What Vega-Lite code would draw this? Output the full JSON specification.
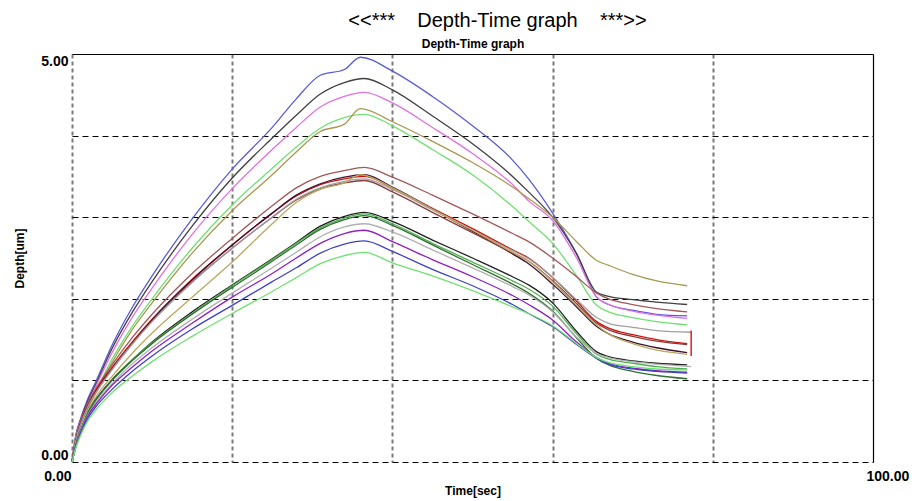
{
  "$schema": "https://vega.github.io/schema/vega-lite/v6.json",
  "width": 801,
  "height": 408,
  "autosize": {"type": "none"},
  "padding": {"left": 72, "top": 54, "right": 46, "bottom": 39},
  "background": "white",
  "config": {"view": {"stroke": null}, "font": "Liberation Sans"},
  "title": {"text": "<<***\u00a0\u00a0\u00a0\u00a0Depth-Time graph\u00a0\u00a0\u00a0\u00a0***>>", "fontSize": 20, "fontWeight": "normal", "font": "Liberation Sans", "color": "black", "anchor": "middle", "offset": 6, "dx": 25},
  "datasets": {
    "curves": [
      {"s":"A1","t":0,"d":0},{"s":"A1","t":0.5,"d":0.34},{"s":"A1","t":1,"d":0.51},{"s":"A1","t":2,"d":0.78},{"s":"A1","t":3,"d":0.99},{"s":"A1","t":5,"d":1.43},{"s":"A1","t":7.5,"d":1.89},{"s":"A1","t":10,"d":2.28},{"s":"A1","t":15,"d":2.98},{"s":"A1","t":20,"d":3.59},{"s":"A1","t":25,"d":4.10},{"s":"A1","t":28,"d":4.45},{"s":"A1","t":31,"d":4.74},{"s":"A1","t":34,"d":4.81},{"s":"A1","t":36,"d":4.96},{"s":"A1","t":40,"d":4.79},{"s":"A1","t":45,"d":4.48},{"s":"A1","t":50,"d":4.12},{"s":"A1","t":55,"d":3.70},{"s":"A1","t":57,"d":3.47},{"s":"A1","t":60,"d":3.05},{"s":"A1","t":63,"d":2.55},{"s":"A1","t":65.5,"d":2.02},{"s":"A1","t":67,"d":1.93},{"s":"A1","t":70,"d":1.86},{"s":"A1","t":73,"d":1.81},{"s":"A1","t":76.8,"d":1.79},
      {"s":"A2","t":0,"d":0},{"s":"A2","t":0.5,"d":0.33},{"s":"A2","t":1,"d":0.49},{"s":"A2","t":2,"d":0.75},{"s":"A2","t":3,"d":0.96},{"s":"A2","t":5,"d":1.39},{"s":"A2","t":7.5,"d":1.83},{"s":"A2","t":10,"d":2.21},{"s":"A2","t":15,"d":2.89},{"s":"A2","t":20,"d":3.48},{"s":"A2","t":25,"d":3.97},{"s":"A2","t":28,"d":4.25},{"s":"A2","t":31,"d":4.51},{"s":"A2","t":34,"d":4.65},{"s":"A2","t":36.5,"d":4.70},{"s":"A2","t":40,"d":4.56},{"s":"A2","t":45,"d":4.24},{"s":"A2","t":50,"d":3.90},{"s":"A2","t":55,"d":3.50},{"s":"A2","t":57,"d":3.31},{"s":"A2","t":60,"d":3.00},{"s":"A2","t":63,"d":2.55},{"s":"A2","t":65.5,"d":2.08},{"s":"A2","t":67,"d":2.03},{"s":"A2","t":70,"d":1.99},{"s":"A2","t":73,"d":1.96},{"s":"A2","t":76.8,"d":1.93},
      {"s":"A3","t":0,"d":0},{"s":"A3","t":0.5,"d":0.32},{"s":"A3","t":1,"d":0.48},{"s":"A3","t":2,"d":0.72},{"s":"A3","t":3,"d":0.93},{"s":"A3","t":5,"d":1.34},{"s":"A3","t":7.5,"d":1.77},{"s":"A3","t":10,"d":2.13},{"s":"A3","t":15,"d":2.79},{"s":"A3","t":20,"d":3.35},{"s":"A3","t":25,"d":3.83},{"s":"A3","t":28,"d":4.10},{"s":"A3","t":31,"d":4.35},{"s":"A3","t":34,"d":4.48},{"s":"A3","t":36.5,"d":4.53},{"s":"A3","t":40,"d":4.40},{"s":"A3","t":45,"d":4.10},{"s":"A3","t":50,"d":3.78},{"s":"A3","t":55,"d":3.40},{"s":"A3","t":57,"d":3.20},{"s":"A3","t":60,"d":2.96},{"s":"A3","t":63,"d":2.50},{"s":"A3","t":65.5,"d":2.02},{"s":"A3","t":67,"d":1.93},{"s":"A3","t":70,"d":1.85},{"s":"A3","t":73,"d":1.80},{"s":"A3","t":76.8,"d":1.76},
      {"s":"A4","t":0,"d":0},{"s":"A4","t":0.5,"d":0.30},{"s":"A4","t":1,"d":0.45},{"s":"A4","t":2,"d":0.68},{"s":"A4","t":3,"d":0.87},{"s":"A4","t":5,"d":1.26},{"s":"A4","t":7.5,"d":1.66},{"s":"A4","t":10,"d":2.00},{"s":"A4","t":15,"d":2.62},{"s":"A4","t":20,"d":3.15},{"s":"A4","t":25,"d":3.60},{"s":"A4","t":28,"d":3.86},{"s":"A4","t":31,"d":4.09},{"s":"A4","t":34,"d":4.22},{"s":"A4","t":36.5,"d":4.26},{"s":"A4","t":40,"d":4.12},{"s":"A4","t":45,"d":3.83},{"s":"A4","t":50,"d":3.52},{"s":"A4","t":55,"d":3.13},{"s":"A4","t":57,"d":2.95},{"s":"A4","t":60,"d":2.68},{"s":"A4","t":63,"d":2.28},{"s":"A4","t":65.5,"d":1.92},{"s":"A4","t":67,"d":1.84},{"s":"A4","t":70,"d":1.77},{"s":"A4","t":73,"d":1.72},{"s":"A4","t":76.8,"d":1.68},
      {"s":"A5","t":0,"d":0},{"s":"A5","t":0.5,"d":0.29},{"s":"A5","t":1,"d":0.44},{"s":"A5","t":2,"d":0.66},{"s":"A5","t":3,"d":0.85},{"s":"A5","t":5,"d":1.22},{"s":"A5","t":7.5,"d":1.62},{"s":"A5","t":10,"d":1.95},{"s":"A5","t":15,"d":2.56},{"s":"A5","t":20,"d":3.08},{"s":"A5","t":25,"d":3.52},{"s":"A5","t":28,"d":3.80},{"s":"A5","t":31,"d":4.05},{"s":"A5","t":34,"d":4.14},{"s":"A5","t":36,"d":4.33},{"s":"A5","t":40,"d":4.17},{"s":"A5","t":45,"d":3.93},{"s":"A5","t":50,"d":3.67},{"s":"A5","t":55,"d":3.37},{"s":"A5","t":57,"d":3.23},{"s":"A5","t":60,"d":3.00},{"s":"A5","t":63,"d":2.70},{"s":"A5","t":65.5,"d":2.47},{"s":"A5","t":67,"d":2.41},{"s":"A5","t":70,"d":2.30},{"s":"A5","t":73,"d":2.22},{"s":"A5","t":76.8,"d":2.16},
      {"s":"B1","t":0,"d":0},{"s":"B1","t":0.5,"d":0.29},{"s":"B1","t":1,"d":0.47},{"s":"B1","t":2,"d":0.72},{"s":"B1","t":3,"d":0.90},{"s":"B1","t":5,"d":1.19},{"s":"B1","t":7.5,"d":1.52},{"s":"B1","t":10,"d":1.81},{"s":"B1","t":15,"d":2.31},{"s":"B1","t":20,"d":2.74},{"s":"B1","t":25,"d":3.14},{"s":"B1","t":28,"d":3.36},{"s":"B1","t":31,"d":3.50},{"s":"B1","t":34,"d":3.57},{"s":"B1","t":36.5,"d":3.61},{"s":"B1","t":40,"d":3.49},{"s":"B1","t":45,"d":3.27},{"s":"B1","t":50,"d":3.04},{"s":"B1","t":55,"d":2.80},{"s":"B1","t":57,"d":2.70},{"s":"B1","t":60,"d":2.50},{"s":"B1","t":63,"d":2.27},{"s":"B1","t":65.5,"d":2.07},{"s":"B1","t":67,"d":2.00},{"s":"B1","t":70,"d":1.93},{"s":"B1","t":73,"d":1.88},{"s":"B1","t":76.8,"d":1.84},
      {"s":"B2","t":0,"d":0},{"s":"B2","t":0.5,"d":0.28},{"s":"B2","t":1,"d":0.46},{"s":"B2","t":2,"d":0.70},{"s":"B2","t":3,"d":0.88},{"s":"B2","t":5,"d":1.16},{"s":"B2","t":7.5,"d":1.47},{"s":"B2","t":10,"d":1.75},{"s":"B2","t":15,"d":2.24},{"s":"B2","t":20,"d":2.66},{"s":"B2","t":25,"d":3.05},{"s":"B2","t":28,"d":3.26},{"s":"B2","t":31,"d":3.40},{"s":"B2","t":34,"d":3.47},{"s":"B2","t":36.5,"d":3.50},{"s":"B2","t":40,"d":3.36},{"s":"B2","t":45,"d":3.11},{"s":"B2","t":50,"d":2.86},{"s":"B2","t":55,"d":2.60},{"s":"B2","t":57,"d":2.50},{"s":"B2","t":60,"d":2.26},{"s":"B2","t":63,"d":1.97},{"s":"B2","t":65.5,"d":1.72},{"s":"B2","t":67,"d":1.64},{"s":"B2","t":70,"d":1.56},{"s":"B2","t":73,"d":1.50},{"s":"B2","t":76.8,"d":1.45},
      {"s":"B3","t":0,"d":0},{"s":"B3","t":0.5,"d":0.27},{"s":"B3","t":1,"d":0.44},{"s":"B3","t":2,"d":0.68},{"s":"B3","t":3,"d":0.86},{"s":"B3","t":5,"d":1.14},{"s":"B3","t":7.5,"d":1.45},{"s":"B3","t":10,"d":1.74},{"s":"B3","t":15,"d":2.23},{"s":"B3","t":20,"d":2.66},{"s":"B3","t":25,"d":3.05},{"s":"B3","t":28,"d":3.27},{"s":"B3","t":31,"d":3.41},{"s":"B3","t":34,"d":3.49},{"s":"B3","t":36.5,"d":3.52},{"s":"B3","t":40,"d":3.37},{"s":"B3","t":45,"d":3.10},{"s":"B3","t":50,"d":2.83},{"s":"B3","t":55,"d":2.55},{"s":"B3","t":57,"d":2.43},{"s":"B3","t":60,"d":2.18},{"s":"B3","t":63,"d":1.90},{"s":"B3","t":65.5,"d":1.66},{"s":"B3","t":67,"d":1.57},{"s":"B3","t":70,"d":1.47},{"s":"B3","t":73,"d":1.40},{"s":"B3","t":76.8,"d":1.34},
      {"s":"B4","t":0,"d":0},{"s":"B4","t":0.5,"d":0.28},{"s":"B4","t":1,"d":0.45},{"s":"B4","t":2,"d":0.69},{"s":"B4","t":3,"d":0.86},{"s":"B4","t":5,"d":1.14},{"s":"B4","t":7.5,"d":1.45},{"s":"B4","t":10,"d":1.73},{"s":"B4","t":15,"d":2.21},{"s":"B4","t":20,"d":2.62},{"s":"B4","t":25,"d":3.00},{"s":"B4","t":28,"d":3.21},{"s":"B4","t":31,"d":3.35},{"s":"B4","t":34,"d":3.42},{"s":"B4","t":36.5,"d":3.45},{"s":"B4","t":40,"d":3.31},{"s":"B4","t":45,"d":3.06},{"s":"B4","t":50,"d":2.81},{"s":"B4","t":55,"d":2.56},{"s":"B4","t":57,"d":2.46},{"s":"B4","t":60,"d":2.22},{"s":"B4","t":63,"d":1.94},{"s":"B4","t":65.5,"d":1.70},{"s":"B4","t":67,"d":1.62},{"s":"B4","t":70,"d":1.54},{"s":"B4","t":73,"d":1.48},{"s":"B4","t":76.8,"d":1.44},
      {"s":"B5","t":0,"d":0},{"s":"B5","t":0.5,"d":0.27},{"s":"B5","t":1,"d":0.44},{"s":"B5","t":2,"d":0.68},{"s":"B5","t":3,"d":0.85},{"s":"B5","t":5,"d":1.13},{"s":"B5","t":7.5,"d":1.44},{"s":"B5","t":10,"d":1.72},{"s":"B5","t":15,"d":2.20},{"s":"B5","t":20,"d":2.62},{"s":"B5","t":25,"d":3.00},{"s":"B5","t":28,"d":3.22},{"s":"B5","t":31,"d":3.36},{"s":"B5","t":34,"d":3.44},{"s":"B5","t":36.5,"d":3.47},{"s":"B5","t":40,"d":3.34},{"s":"B5","t":45,"d":3.09},{"s":"B5","t":50,"d":2.84},{"s":"B5","t":55,"d":2.59},{"s":"B5","t":57,"d":2.49},{"s":"B5","t":60,"d":2.26},{"s":"B5","t":63,"d":1.99},{"s":"B5","t":65.5,"d":1.77},{"s":"B5","t":67,"d":1.70},{"s":"B5","t":70,"d":1.65},{"s":"B5","t":73,"d":1.61},{"s":"B5","t":77.3,"d":1.59},
      {"s":"B6","t":0,"d":0},{"s":"B6","t":0.5,"d":0.20},{"s":"B6","t":1,"d":0.35},{"s":"B6","t":2,"d":0.62},{"s":"B6","t":3,"d":0.80},{"s":"B6","t":5,"d":1.05},{"s":"B6","t":7.5,"d":1.33},{"s":"B6","t":10,"d":1.58},{"s":"B6","t":15,"d":2.02},{"s":"B6","t":20,"d":2.45},{"s":"B6","t":25,"d":2.92},{"s":"B6","t":28,"d":3.18},{"s":"B6","t":31,"d":3.34},{"s":"B6","t":34,"d":3.42},{"s":"B6","t":36,"d":3.52},{"s":"B6","t":40,"d":3.36},{"s":"B6","t":45,"d":3.10},{"s":"B6","t":50,"d":2.84},{"s":"B6","t":55,"d":2.57},{"s":"B6","t":57,"d":2.46},{"s":"B6","t":60,"d":2.21},{"s":"B6","t":63,"d":1.92},{"s":"B6","t":65.5,"d":1.68},{"s":"B6","t":67,"d":1.57},{"s":"B6","t":70,"d":1.45},{"s":"B6","t":73,"d":1.37},{"s":"B6","t":76.8,"d":1.32},
      {"s":"C1","t":0,"d":0},{"s":"C1","t":0.5,"d":0.21},{"s":"C1","t":1,"d":0.37},{"s":"C1","t":2,"d":0.61},{"s":"C1","t":3,"d":0.77},{"s":"C1","t":5,"d":1.01},{"s":"C1","t":7.5,"d":1.25},{"s":"C1","t":10,"d":1.47},{"s":"C1","t":15,"d":1.84},{"s":"C1","t":20,"d":2.17},{"s":"C1","t":25,"d":2.49},{"s":"C1","t":28,"d":2.69},{"s":"C1","t":31,"d":2.89},{"s":"C1","t":34,"d":3.01},{"s":"C1","t":36.5,"d":3.06},{"s":"C1","t":40,"d":2.95},{"s":"C1","t":45,"d":2.72},{"s":"C1","t":50,"d":2.50},{"s":"C1","t":55,"d":2.27},{"s":"C1","t":57,"d":2.17},{"s":"C1","t":60,"d":1.95},{"s":"C1","t":63,"d":1.60},{"s":"C1","t":65.5,"d":1.35},{"s":"C1","t":67,"d":1.29},{"s":"C1","t":70,"d":1.24},{"s":"C1","t":73,"d":1.21},{"s":"C1","t":76.8,"d":1.19},
      {"s":"C2","t":0,"d":0},{"s":"C2","t":0.5,"d":0.21},{"s":"C2","t":1,"d":0.36},{"s":"C2","t":2,"d":0.61},{"s":"C2","t":3,"d":0.76},{"s":"C2","t":5,"d":1.00},{"s":"C2","t":7.5,"d":1.25},{"s":"C2","t":10,"d":1.46},{"s":"C2","t":15,"d":1.82},{"s":"C2","t":20,"d":2.16},{"s":"C2","t":25,"d":2.48},{"s":"C2","t":28,"d":2.68},{"s":"C2","t":31,"d":2.87},{"s":"C2","t":34,"d":2.99},{"s":"C2","t":36.5,"d":3.04},{"s":"C2","t":40,"d":2.92},{"s":"C2","t":45,"d":2.68},{"s":"C2","t":50,"d":2.45},{"s":"C2","t":55,"d":2.22},{"s":"C2","t":57,"d":2.12},{"s":"C2","t":60,"d":1.91},{"s":"C2","t":63,"d":1.57},{"s":"C2","t":65.5,"d":1.32},{"s":"C2","t":67,"d":1.26},{"s":"C2","t":70,"d":1.21},{"s":"C2","t":73,"d":1.17},{"s":"C2","t":76.8,"d":1.14},
      {"s":"C3","t":0,"d":0},{"s":"C3","t":0.5,"d":0.21},{"s":"C3","t":1,"d":0.36},{"s":"C3","t":2,"d":0.60},{"s":"C3","t":3,"d":0.76},{"s":"C3","t":5,"d":1.00},{"s":"C3","t":7.5,"d":1.24},{"s":"C3","t":10,"d":1.45},{"s":"C3","t":15,"d":1.81},{"s":"C3","t":20,"d":2.14},{"s":"C3","t":25,"d":2.46},{"s":"C3","t":28,"d":2.66},{"s":"C3","t":31,"d":2.85},{"s":"C3","t":34,"d":2.97},{"s":"C3","t":36.5,"d":3.02},{"s":"C3","t":40,"d":2.90},{"s":"C3","t":45,"d":2.66},{"s":"C3","t":50,"d":2.42},{"s":"C3","t":55,"d":2.18},{"s":"C3","t":57,"d":2.07},{"s":"C3","t":60,"d":1.85},{"s":"C3","t":63,"d":1.52},{"s":"C3","t":65.5,"d":1.27},{"s":"C3","t":67,"d":1.19},{"s":"C3","t":70,"d":1.11},{"s":"C3","t":73,"d":1.06},{"s":"C3","t":76.8,"d":1.02},
      {"s":"C4","t":0,"d":0},{"s":"C4","t":0.5,"d":0.20},{"s":"C4","t":1,"d":0.35},{"s":"C4","t":2,"d":0.58},{"s":"C4","t":3,"d":0.73},{"s":"C4","t":5,"d":0.96},{"s":"C4","t":7.5,"d":1.20},{"s":"C4","t":10,"d":1.40},{"s":"C4","t":15,"d":1.75},{"s":"C4","t":20,"d":2.07},{"s":"C4","t":25,"d":2.38},{"s":"C4","t":28,"d":2.57},{"s":"C4","t":31,"d":2.76},{"s":"C4","t":34,"d":2.88},{"s":"C4","t":36.5,"d":2.92},{"s":"C4","t":40,"d":2.82},{"s":"C4","t":45,"d":2.60},{"s":"C4","t":50,"d":2.38},{"s":"C4","t":55,"d":2.15},{"s":"C4","t":57,"d":2.05},{"s":"C4","t":60,"d":1.84},{"s":"C4","t":63,"d":1.53},{"s":"C4","t":65.5,"d":1.33},{"s":"C4","t":67,"d":1.28},{"s":"C4","t":70,"d":1.23},{"s":"C4","t":73,"d":1.20},{"s":"C4","t":77.3,"d":1.17},
      {"s":"C5","t":0,"d":0},{"s":"C5","t":0.5,"d":0.20},{"s":"C5","t":1,"d":0.34},{"s":"C5","t":2,"d":0.57},{"s":"C5","t":3,"d":0.71},{"s":"C5","t":5,"d":0.94},{"s":"C5","t":7.5,"d":1.16},{"s":"C5","t":10,"d":1.36},{"s":"C5","t":15,"d":1.70},{"s":"C5","t":20,"d":2.02},{"s":"C5","t":25,"d":2.31},{"s":"C5","t":28,"d":2.50},{"s":"C5","t":31,"d":2.68},{"s":"C5","t":34,"d":2.80},{"s":"C5","t":36.5,"d":2.84},{"s":"C5","t":40,"d":2.70},{"s":"C5","t":45,"d":2.48},{"s":"C5","t":50,"d":2.27},{"s":"C5","t":55,"d":2.04},{"s":"C5","t":57,"d":1.93},{"s":"C5","t":60,"d":1.74},{"s":"C5","t":63,"d":1.47},{"s":"C5","t":65.5,"d":1.28},{"s":"C5","t":67,"d":1.21},{"s":"C5","t":70,"d":1.15},{"s":"C5","t":73,"d":1.12},{"s":"C5","t":76.8,"d":1.10},
      {"s":"C6","t":0,"d":0},{"s":"C6","t":0.5,"d":0.19},{"s":"C6","t":1,"d":0.33},{"s":"C6","t":2,"d":0.54},{"s":"C6","t":3,"d":0.68},{"s":"C6","t":5,"d":0.89},{"s":"C6","t":7.5,"d":1.11},{"s":"C6","t":10,"d":1.30},{"s":"C6","t":15,"d":1.63},{"s":"C6","t":20,"d":1.92},{"s":"C6","t":25,"d":2.21},{"s":"C6","t":28,"d":2.38},{"s":"C6","t":31,"d":2.56},{"s":"C6","t":34,"d":2.67},{"s":"C6","t":36.5,"d":2.71},{"s":"C6","t":40,"d":2.58},{"s":"C6","t":45,"d":2.36},{"s":"C6","t":50,"d":2.16},{"s":"C6","t":55,"d":1.93},{"s":"C6","t":57,"d":1.82},{"s":"C6","t":60,"d":1.66},{"s":"C6","t":63,"d":1.44},{"s":"C6","t":65.5,"d":1.27},{"s":"C6","t":67,"d":1.20},{"s":"C6","t":70,"d":1.14},{"s":"C6","t":73,"d":1.11},{"s":"C6","t":76.8,"d":1.09},
      {"s":"C7","t":0,"d":0},{"s":"C7","t":0.5,"d":0.18},{"s":"C7","t":1,"d":0.31},{"s":"C7","t":2,"d":0.51},{"s":"C7","t":3,"d":0.64},{"s":"C7","t":5,"d":0.85},{"s":"C7","t":7.5,"d":1.05},{"s":"C7","t":10,"d":1.23},{"s":"C7","t":15,"d":1.54},{"s":"C7","t":20,"d":1.82},{"s":"C7","t":25,"d":2.09},{"s":"C7","t":28,"d":2.26},{"s":"C7","t":31,"d":2.43},{"s":"C7","t":34,"d":2.53},{"s":"C7","t":36.5,"d":2.57},{"s":"C7","t":40,"d":2.44},{"s":"C7","t":45,"d":2.28},{"s":"C7","t":50,"d":2.10},{"s":"C7","t":55,"d":1.90},{"s":"C7","t":57,"d":1.82},{"s":"C7","t":60,"d":1.67},{"s":"C7","t":63,"d":1.45},{"s":"C7","t":65.5,"d":1.28},{"s":"C7","t":67,"d":1.22},{"s":"C7","t":70,"d":1.17},{"s":"C7","t":73,"d":1.14},{"s":"C7","t":76.8,"d":1.13}
    ],
    "errbar": [{"t": 77.3, "lo": 1.30, "hi": 1.61}]
  },
  "layer": [
    {
      "data": {"name": "curves"},
      "mark": {"type": "line", "strokeWidth": 1.3, "interpolate": "monotone"},
      "encoding": {
        "x": {"field": "t", "type": "quantitative", "scale": {"domain": [0, 100], "nice": false, "zero": false},
          "axis": {"orient": "bottom", "values": [0, 20, 40, 60, 80, 100], "labelExpr": "datum.value == 0 || datum.value == 100 ? format(datum.value, '.2f') : ''",
            "ticks": false, "domain": false, "grid": true, "gridColor": "#7a7a7a", "gridDash": [4, 3], "gridWidth": 2,
            "gridOpacity": {"condition": {"test": "datum.value == 100", "value": 0}, "value": 1},
            "labelAlign": {"condition": {"test": "datum.value == 0", "value": "right"}, "value": "left"},
            "labelOffset": {"condition": {"test": "datum.value == 100", "value": -7}, "value": -1},
            "labelFont": "Liberation Sans", "labelFontSize": 14, "labelFontWeight": "bold", "labelColor": "black", "labelPadding": 7,
            "title": "Time[sec]", "titleFont": "Liberation Sans", "titleFontSize": 12, "titleFontWeight": "bold", "titleColor": "black", "titlePadding": 2}},
        "y": {"field": "d", "type": "quantitative", "scale": {"domain": [0, 5], "nice": false, "zero": false},
          "axis": {"orient": "left", "values": [0, 1, 2, 3, 4, 5], "labelExpr": "datum.value == 0 || datum.value == 5 ? format(datum.value, '.2f') : ''",
            "labelFlush": true, "ticks": false, "domain": false, "grid": true, "gridColor": "black", "gridDash": [6, 4], "gridWidth": 1.2,
            "gridOpacity": {"condition": {"test": "datum.value == 5", "value": 0}, "value": 1},
            "labelFont": "Liberation Sans", "labelFontSize": 14, "labelFontWeight": "bold", "labelColor": "black", "labelPadding": 4,
            "title": "Depth[um]", "titleFont": "Liberation Sans", "titleFontSize": 12, "titleFontWeight": "bold", "titleColor": "black", "titlePadding": 14}},
        "color": {"field": "s", "type": "nominal", "legend": null,
          "scale": {"domain": ["A1","A2","A3","A4","A5","B1","B2","B3","B4","B5","B6","C1","C2","C3","C4","C5","C6","C7"],
            "range": ["#5a5ad8","#404040","#e070e0","#70e070","#a89850","#a05858","#cc1010","#401030","#8c3a3a","#a0a0a0","#b8a860","#202020","#50b050","#2f6f2f","#b0b0b0","#9020c0","#4040c8","#70e070"]}}
      }
    },
    {
      "data": {"name": "errbar"},
      "mark": {"type": "rule", "color": "#e02020", "strokeWidth": 1.5},
      "encoding": {
        "x": {"field": "t", "type": "quantitative",
          "axis": {"orient": "top", "title": "Depth-Time graph", "labels": false, "ticks": false, "domain": true, "domainColor": "black", "domainWidth": 1.2, "grid": false,
            "titleFont": "Liberation Sans", "titleFontSize": 12, "titleFontWeight": "bold", "titleColor": "black", "titlePadding": 4}},
        "y": {"field": "lo", "type": "quantitative",
          "axis": {"orient": "right", "title": null, "labels": false, "ticks": false, "domain": true, "domainColor": "black", "domainWidth": 1.2, "grid": false}},
        "y2": {"field": "hi"}
      }
    }
  ],
  "resolve": {"axis": {"x": "independent", "y": "independent"}}
}
